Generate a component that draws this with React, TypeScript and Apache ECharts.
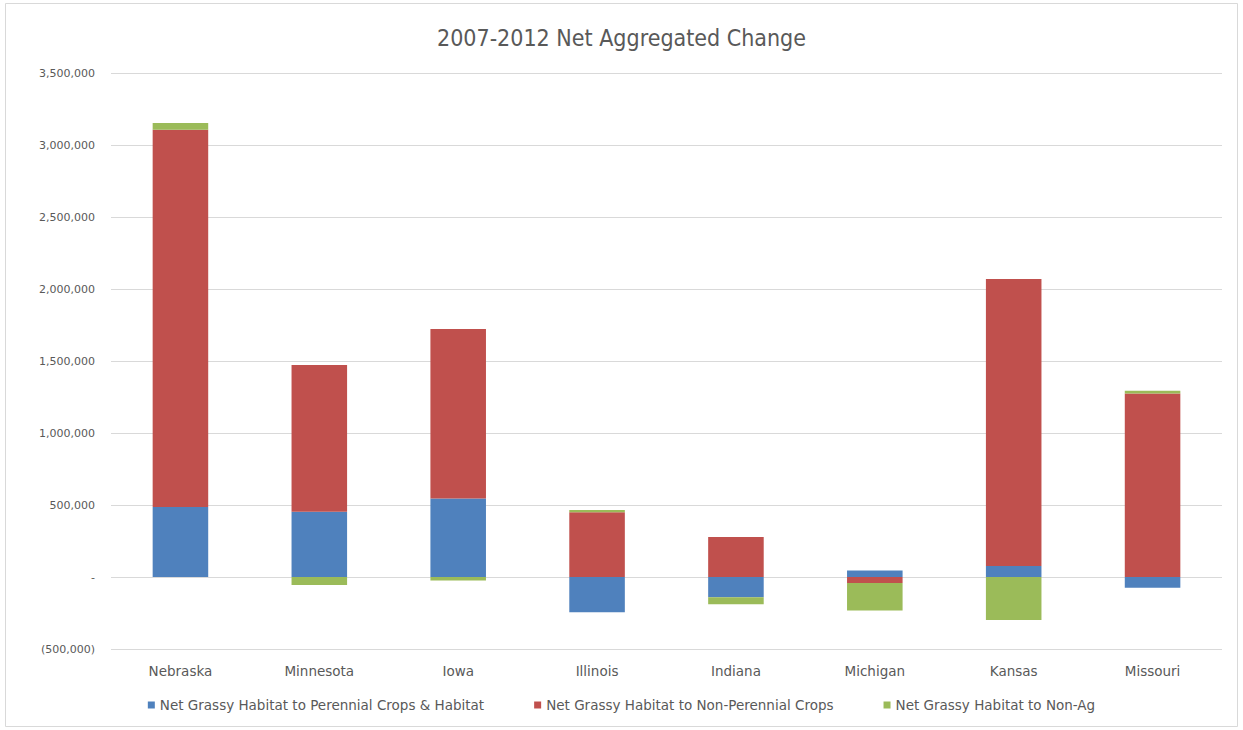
import React, { useEffect, useRef } from "react";
import * as echarts from "echarts";

const categories = ["Nebraska", "Minnesota", "Iowa", "Illinois", "Indiana", "Michigan", "Kansas", "Missouri"];
const perennial = [486000, 453000, 546000, -245000, -140000, 46000, 76000, -74000];
const nonPerennial = [2620000, 1020000, 1176000, 450000, 278000, -42000, 1993000, 1275000];
const nonAg = [47000, -55000, -25000, 15000, -50000, -190000, -298000, 18000];
const seriesNames = [
  "Net Grassy Habitat to Perennial Crops & Habitat",
  "Net Grassy Habitat to Non-Perennial Crops",
  "Net Grassy Habitat to Non-Ag",
];
const colors = ["#4F81BD", "#C0504D", "#9BBB59"];

const fmt = (v: number) => {
  if (v === 0) return "-";
  const s = Math.abs(v).toLocaleString("en-US");
  return v < 0 ? `(${s})` : s;
};

export default function App() {
  const ref = useRef<HTMLDivElement>(null);
  useEffect(() => {
    const chart = echarts.init(ref.current!, null, { renderer: "svg" });
    const font = "'DejaVu Sans', 'Noto Sans', sans-serif";
    const data = [perennial, nonPerennial, nonAg];
    chart.setOption({
      animation: false,
      backgroundColor: "#ffffff",
      textStyle: { fontFamily: font },
      title: {
        text: "2007-2012 Net Aggregated Change",
        left: "center",
        top: 21,
        textStyle: {
          fontSize: 23,
          fontWeight: "normal",
          color: "#595959",
          fontFamily: "'DejaVu Sans Condensed', 'Liberation Sans Narrow', sans-serif",
        },
      },
      graphic: [
        {
          type: "rect",
          shape: { x: 5.5, y: 3.5, width: 1232, height: 723 },
          style: { fill: "none", stroke: "#d9d9d9", lineWidth: 1 },
          silent: true,
        },
      ],
      legend: {
        bottom: 13,
        left: "center",
        itemWidth: 7,
        itemHeight: 7,
        itemGap: 50,
        icon: "rect",
        textStyle: { fontSize: 13.5, color: "#595959", fontFamily: font },
        data: seriesNames,
      },
      grid: { left: 111, right: 21, top: 73, bottom: 81 },
      xAxis: {
        type: "category",
        data: categories,
        axisLine: { show: false },
        axisTick: { show: false },
        axisLabel: { fontSize: 13.5, color: "#595959", margin: 15, fontFamily: font },
      },
      yAxis: {
        type: "value",
        min: -500000,
        max: 3500000,
        interval: 500000,
        axisLine: { show: false },
        axisTick: { show: false },
        splitLine: { lineStyle: { color: "#d9d9d9", width: 1 } },
        axisLabel: {
          fontSize: 11,
          color: "#595959",
          margin: 16,
          fontFamily: font,
          formatter: (v: number) => fmt(v),
        },
      },
      series: seriesNames.map((name, i) => ({
        name,
        type: "bar",
        stack: "total",
        barWidth: "40%",
        itemStyle: { color: colors[i] },
        data: data[i],
      })),
    });
    return () => chart.dispose();
  }, []);
  return <div ref={ref} style={{ position: "fixed", left: 0, top: 0, width: 1243, height: 730 }} />;
}
